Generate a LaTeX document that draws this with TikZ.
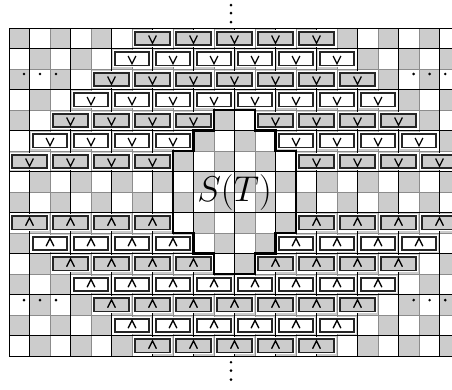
\documentclass[tikz,border=0pt]{standalone}
\usepackage{tikz}
\usetikzlibrary{positioning}
\definecolor{grisc}{gray}{0.8}
\definecolor{grisl}{gray}{0.55}
\tikzset{
  clara/.style={fill=grisc},
  rejilla/.style={draw=grisl, line width=0.5pt},
  linea/.style={draw=black, line width=0.7pt},
  borde/.style={draw=black, line width=1.7pt},
  ficha/.style={draw=black!85, line width=1.2pt, rectangle, minimum width=8.4mm, minimum height=3.2mm, inner sep=0pt, preaction={draw=white, line width=2.8pt}},
  punta/.style={line width=0.9pt},
  et/.style={font=\fontsize{24}{28}\selectfont},
}

\begin{document}
\begin{tikzpicture}[x=5mm, y=5mm]
  \useasboundingbox (-0.44,-1.61) rectangle (21.61,17.37);
  \clip (-0.44,-1.61) rectangle (21.61,17.37);
  % tablero
  \foreach \r in {0,...,15}
    \foreach \c in {0,...,21} {
      \pgfmathtruncatemacro\paridad{mod(\r+\c,2)}
      \ifnum\paridad=0 \fill[clara] (\c,15-\r) rectangle ++(1,1); \fi
    }
  \foreach \c in {0,...,22} \draw[rejilla] (\c,0) -- (\c,16);
  \foreach \y in {0,...,16} \draw[rejilla] (0,\y) -- (22,\y);
  \foreach \c in {1,3,...,21} \draw[linea] (\c,0) -- (\c,16);
  \foreach \y in {1,3,...,15} \draw[linea] (0,\y) -- (22,\y);
  \draw[linea] (0,0) rectangle (22,16);
  % fichas de arriba (bajan) y de abajo (suben)
  \foreach \r/\cs in {0/{6,8,...,14}, 1/{5,7,...,15}, 2/{4,6,...,16}, 3/{3,5,...,17},
                      4/{2,4,6,8,12,14,16,18}, 5/{1,3,5,7,13,15,17,19}, 6/{0,2,4,6,14,16,18,20}} {
    \pgfmathtruncatemacro\paridad{mod(\r,2)}
    \foreach \c in \cs {
      \ifnum\paridad=0
        \node[ficha, fill=grisc] (a\r-\c) at (\c+1,15.5-\r) {};
        \node[ficha, fill=grisc] (b\r-\c) at (\c+1,0.5+\r) {};
      \else
        \node[ficha, fill=white] (a\r-\c) at (\c+1,15.5-\r) {};
        \node[ficha, fill=white] (b\r-\c) at (\c+1,0.5+\r) {};
      \fi
      \draw[punta] ([shift={(-0.19,0.14)}]a\r-\c.center) -- ([shift={(0,-0.24)}]a\r-\c.center)
        -- ([shift={(0.19,0.14)}]a\r-\c.center);
      \draw[punta] ([shift={(-0.19,-0.14)}]b\r-\c.center) -- ([shift={(0,0.24)}]b\r-\c.center)
        -- ([shift={(0.19,-0.14)}]b\r-\c.center);
    }
  }
  % region S(T)
  \draw[borde] (10,12) -- (12,12) -- (12,11) -- (13,11) -- (13,10) -- (14,10) -- (14,6)
    -- (13,6) -- (13,5) -- (12,5) -- (12,4) -- (10,4) -- (10,5) -- (9,5) -- (9,6)
    -- (8,6) -- (8,10) -- (9,10) -- (9,11) -- (10,11) -- cycle;
  \node[et] (st) at (11,8) {$S(T)$};
  % puntos
  \foreach \y in {17.12,16.73,16.29,-0.30,-0.71,-1.15} \fill (10.83,\y) circle (0.07);
  \foreach \x in {0.73,1.51,2.29,19.74,20.52,21.28} {
    \fill (\x,13.76) circle (0.07);
    \fill (\x,2.73) circle (0.07);
  }
\end{tikzpicture}
\end{document}
